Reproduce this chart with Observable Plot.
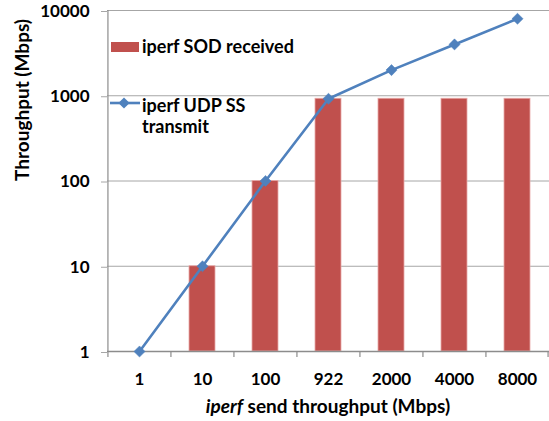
<!DOCTYPE html>
<html>
<head>
<meta charset="utf-8">
<script src="https://cdn.jsdelivr.net/npm/d3@7"></script>
<script src="https://cdn.jsdelivr.net/npm/@observablehq/plot@0.6"></script>
<style>
  html, body { margin: 0; padding: 0; background: #fff; }
  #wrap { position: relative; width: 549px; height: 421px; }
  #wrap svg { display: block; }
  #overlay { position: absolute; left: 0; top: 0; pointer-events: none; }
</style>
</head>
<body>
<div id="wrap"></div>
<script>
// ---- data ----
const categories = ["1", "10", "100", "922", "2000", "4000", "8000"];
const sodReceived = [1, 10, 100, 922, 922, 922, 922];
const udpTransmit = [1, 10, 100, 922, 2000, 4000, 8000];
const yTicks = [1, 10, 100, 1000, 10000];
const seriesNames = ["iperf SOD received", "iperf UDP SS", "transmit"];
const yTitle = "Throughput (Mbps)";

const barColor = "#C0504D";
const lineColor = "#4F81BD";
const font = "Lato, 'Open Sans', sans-serif";

const data = categories.map((c, i) => ({cat: c, sod: sodReceived[i], udp: udpTransmit[i]}));

const W = 549, H = 421;
const mL = 107, mR = 0, mT = 10, mB = 70;
const step = (W - mL - mR) / categories.length;

const chart = Plot.plot({
  width: W, height: H,
  marginLeft: mL, marginRight: mR, marginTop: mT, marginBottom: mB,
  style: {fontFamily: font, fontWeight: "bold", fontSize: "17px", color: "#000", background: "#fff", overflow: "visible"},
  x: {type: "band", domain: categories, paddingInner: 0.59, paddingOuter: 0.295, label: null},
  y: {type: "log", domain: [1, 10000], label: null},
  marks: [
    Plot.gridY(yTicks, {stroke: "#a6a6a6", strokeOpacity: 1, strokeWidth: 1}),
    Plot.axisY(yTicks, {tickFormat: d => String(d), tickSize: 6, tickPadding: 12, dy: 1, stroke: "#a6a6a6", strokeOpacity: 1, fill: "#000", fontWeight: "bold", fontSize: 17, label: null}),
    Plot.axisX({tickSize: 0, tickPadding: 21, fill: "#000", fontWeight: "bold", fontSize: 17, label: null}),
    // bars
    Plot.barY(data, {x: "cat", y1: 1, y2: "sod", fill: barColor, stroke: "#e8a9a7", strokeWidth: 0.8}),
    // left axis line
    Plot.ruleX([categories[0]], {dx: -step / 2, y1: 1, y2: 10000, stroke: "#8c8c8c", strokeWidth: 1.2}),
    // bottom axis line
    Plot.ruleY([1], {stroke: "#8c8c8c", strokeWidth: 1.5}),
    // category boundary ticks
    Plot.ruleX(categories, {x: d => d, dx: -step / 2, y1: 1, y2: 1, insetBottom: -6, stroke: "#8c8c8c", strokeWidth: 1.2}),
    Plot.ruleX([categories[categories.length - 1]], {dx: step / 2 - 1, y1: 1, y2: 1, insetBottom: -6, stroke: "#8c8c8c", strokeWidth: 1.2}),
    // line
    Plot.line(data, {x: "cat", y: "udp", stroke: lineColor, strokeWidth: 2.6}),
    Plot.dot(data, {x: "cat", y: "udp", symbol: "diamond2", r: 5, fill: lineColor, stroke: lineColor, strokeWidth: 0.5}),
    // y title
    Plot.text([yTitle], {frameAnchor: "left", rotate: -90, dx: -85, fontSize: 19, fontWeight: "bold", fill: "#000"})
  ]
});

document.getElementById("wrap").appendChild(chart);

// ---- legend & x title overlay ----
const ov = d3.select("#wrap").append("svg")
  .attr("id", "overlay")
  .attr("width", W).attr("height", H)
  .style("font-family", font).style("font-weight", "bold").style("font-size", "18px");

ov.append("rect").attr("x", 111).attr("y", 42).attr("width", 28).attr("height", 10).attr("fill", barColor);
ov.append("text").attr("x", 142).attr("y", 53).text(seriesNames[0]);

ov.append("line").attr("x1", 110).attr("x2", 140).attr("y1", 103).attr("y2", 103)
  .attr("stroke", lineColor).attr("stroke-width", 2.6);
ov.append("path").attr("d", d3.symbol(d3.symbolDiamond2, 80)()).attr("transform", "translate(124,103)").attr("fill", lineColor);
ov.append("text").attr("x", 142).attr("y", 112).text(seriesNames[1]);
ov.append("text").attr("x", 142).attr("y", 133).text(seriesNames[2]);

const xt = ov.append("text").attr("x", mL + (W - mL - mR) / 2).attr("y", 413).attr("text-anchor", "middle").style("font-size", "19px");
xt.append("tspan").attr("font-style", "italic").text("iperf");
xt.append("tspan").text(" send throughput (Mbps)");
</script>
</body>
</html>
